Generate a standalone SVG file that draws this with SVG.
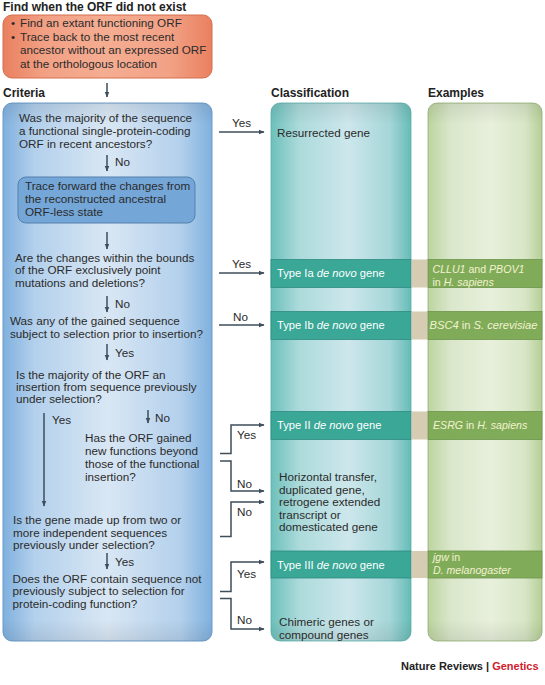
<svg xmlns="http://www.w3.org/2000/svg" width="545" height="685" viewBox="0 0 545 685">
<defs>
<linearGradient id="gOrange" x1="0" y1="0" x2="1" y2="0">
<stop offset="0" stop-color="#e9805f"/><stop offset="0.2" stop-color="#f2a185"/><stop offset="0.5" stop-color="#f5ad92"/><stop offset="0.8" stop-color="#f2a185"/><stop offset="1" stop-color="#e9805f"/>
</linearGradient>
<linearGradient id="gBlue" x1="0" y1="0" x2="1" y2="0">
<stop offset="0" stop-color="#7fb0de"/><stop offset="0.15" stop-color="#b3d0ec"/><stop offset="0.5" stop-color="#d9e7f4"/><stop offset="0.85" stop-color="#b3d0ec"/><stop offset="1" stop-color="#7fb0de"/>
</linearGradient>
<linearGradient id="gTeal" x1="0" y1="0" x2="1" y2="0">
<stop offset="0" stop-color="#6cc0bb"/><stop offset="0.2" stop-color="#acdadb"/><stop offset="0.55" stop-color="#cde7ec"/><stop offset="0.85" stop-color="#a5d6d8"/><stop offset="1" stop-color="#66bcb7"/>
</linearGradient>
<linearGradient id="gGreen" x1="0" y1="0" x2="1" y2="0">
<stop offset="0" stop-color="#bcd4a0"/><stop offset="0.2" stop-color="#dae7cb"/><stop offset="0.55" stop-color="#e8f0dc"/><stop offset="0.85" stop-color="#d8e6c6"/><stop offset="1" stop-color="#b6cf98"/>
</linearGradient>
<linearGradient id="gVert" x1="0" y1="0" x2="0" y2="1">
<stop offset="0" stop-color="#000" stop-opacity="0.08"/><stop offset="0.04" stop-color="#000" stop-opacity="0"/><stop offset="0.96" stop-color="#000" stop-opacity="0"/><stop offset="1" stop-color="#000" stop-opacity="0.08"/>
</linearGradient>
<marker id="ah" viewBox="0 0 10 10" refX="9" refY="5" markerWidth="6" markerHeight="6" markerUnits="userSpaceOnUse" orient="auto">
<path d="M0,1 L10,5 L0,9 z" fill="#3e4e5a"/>
</marker>
</defs>
<style>
text{font-family:"Liberation Sans",Arial,sans-serif;font-size:11.7px;fill:#2b2b2b}
.h{font-weight:bold;font-size:12px;fill:#222}
.w{fill:#ffffff;font-size:11.2px}
.ex{fill:#f4f2cf;font-size:10.6px}
.i{font-style:italic}
.c line,.c path{stroke:#3e4e5a;stroke-width:1.5;fill:none}
.a{marker-end:url(#ah)}
.band{fill:#3aa797;stroke:#2e8c80;stroke-width:0.8}
.gband{fill:#80ac5a;stroke:#6e954b;stroke-width:0.8}
.gap{fill:#d6ccb4}
</style>

<g id="header">
<text class="h" x="3" y="11">Find when the ORF did not exist</text>
</g>
<g id="start">
<rect x="3" y="15" width="209" height="63" rx="9" fill="url(#gOrange)" stroke="#d56e4f" stroke-width="1"/>
<text x="11" y="27">•</text><text x="20" y="27">Find an extant functioning ORF</text>
<text x="11" y="40.5">•</text><text x="20" y="40.5">Trace back to the most recent</text>
<text x="20" y="54">ancestor without an expressed ORF</text>
<text x="20" y="67.5">at the orthologous location</text>
</g>

<g id="col-headers">
<text class="h" x="3" y="97">Criteria</text>
<text class="h" x="271" y="97">Classification</text>
<text class="h" x="428" y="97">Examples</text>
</g>

<g id="criteria">
<rect x="3" y="103" width="209" height="538" rx="9" fill="url(#gBlue)" stroke="#6b9ccb" stroke-width="1"/>
<rect x="3" y="103" width="209" height="538" rx="9" fill="url(#gVert)"/>
</g>
<g id="q1">
<text x="19" y="122">Was the majority of the sequence</text>
<text x="19" y="135">a functional single-protein-coding</text>
<text x="19" y="147.5">ORF in recent ancestors?</text>
</g>
<g id="trace">
<rect x="18" y="177" width="177" height="46" rx="8" fill="#74a6d8" stroke="#547fab" stroke-width="1"/>
<text x="25" y="190">Trace forward the changes from</text>
<text x="25" y="203">the reconstructed ancestral</text>
<text x="25" y="215.5">ORF-less state</text>
</g>
<g id="q2">
<text x="15" y="261.5">Are the changes within the bounds</text>
<text x="15" y="274">of the ORF exclusively point</text>
<text x="15" y="286.5">mutations and deletions?</text>
</g>
<g id="q3">
<text x="10" y="325">Was any of the gained sequence</text>
<text x="10" y="337.5">subject to selection prior to insertion?</text>
</g>
<g id="q4">
<text x="16" y="378.5">Is the majority of the ORF an</text>
<text x="16" y="391">insertion from sequence previously</text>
<text x="16" y="403">under selection?</text>
</g>
<g id="q5">
<text x="85" y="441.5">Has the ORF gained</text>
<text x="85" y="454.5">new functions beyond</text>
<text x="85" y="467.5">those of the functional</text>
<text x="85" y="480.5">insertion?</text>
</g>
<g id="q6">
<text x="13" y="524">Is the gene made up from two or</text>
<text x="13" y="536.5">more independent sequences</text>
<text x="13" y="549">previously under selection?</text>
</g>
<g id="q7">
<text x="12.5" y="582.5">Does the ORF contain sequence not</text>
<text x="12.5" y="595">previously subject to selection for</text>
<text x="12.5" y="607.5">protein-coding function?</text>
</g>

<g id="classification">
<rect x="271" y="103" width="140" height="538" rx="9" fill="url(#gTeal)" stroke="#5aaea9" stroke-width="0.8"/>
<rect x="271" y="103" width="140" height="538" rx="9" fill="url(#gVert)"/>
</g>
<g id="examples">
<rect x="428" y="103" width="114" height="538" rx="9" fill="url(#gGreen)" stroke="#93b072" stroke-width="0.8"/>
<rect x="428" y="103" width="114" height="538" rx="9" fill="url(#gVert)"/>
</g>

<g id="resurrected">
<text x="277" y="136.5">Resurrected gene</text>
</g>
<g id="type-ia">
<rect class="band" x="271" y="259.5" width="140" height="28"/>
<rect class="gap" x="411.5" y="259.5" width="16" height="28"/>
<rect class="gband" x="428" y="259.5" width="114" height="28"/>
<text class="w" x="277" y="277">Type Ia <tspan class="i w">de novo</tspan> gene</text>
<text class="ex" x="432.5" y="272.5"><tspan class="i ex">CLLU1</tspan> and <tspan class="i ex">PBOV1</tspan></text>
<text class="ex" x="432.5" y="285.5">in <tspan class="i ex">H. sapiens</tspan></text>
</g>
<g id="type-ib">
<rect class="band" x="271" y="311.5" width="140" height="28"/>
<rect class="gap" x="411.5" y="311.5" width="16" height="28"/>
<rect class="gband" x="428" y="311.5" width="114" height="28"/>
<text class="w" x="277" y="329">Type Ib <tspan class="i w">de novo</tspan> gene</text>
<text class="ex" x="429.5" y="329" textLength="108" lengthAdjust="spacingAndGlyphs"><tspan class="i ex">BSC4</tspan> in <tspan class="i ex">S. cerevisiae</tspan></text>
</g>
<g id="type-ii">
<rect class="band" x="271" y="411.5" width="140" height="28"/>
<rect class="gap" x="411.5" y="411.5" width="16" height="28"/>
<rect class="gband" x="428" y="411.5" width="114" height="28"/>
<text class="w" x="277" y="429">Type II <tspan class="i w">de novo</tspan> gene</text>
<text class="ex" x="433" y="429"><tspan class="i ex">ESRG</tspan> in <tspan class="i ex">H. sapiens</tspan></text>
</g>
<g id="horizontal">
<text x="279" y="481">Horizontal transfer,</text>
<text x="279" y="493.5">duplicated gene,</text>
<text x="279" y="506">retrogene extended</text>
<text x="279" y="518.5">transcript or</text>
<text x="279" y="531">domesticated gene</text>
</g>
<g id="type-iii">
<rect class="band" x="271" y="551" width="140" height="27"/>
<rect class="gap" x="411.5" y="551" width="16" height="27"/>
<rect class="gband" x="428" y="551" width="114" height="27"/>
<text class="w" x="277" y="569">Type III <tspan class="i w">de novo</tspan> gene</text>
<text class="ex" x="433" y="561"><tspan class="i ex">jgw</tspan> in</text>
<text class="ex i" x="433" y="574">D. melanogaster</text>
</g>
<g id="chimeric">
<text x="279" y="626">Chimeric genes or</text>
<text x="279" y="638.5">compound genes</text>
</g>

<g id="connectors" class="c">
<line class="a" x1="107" y1="83" x2="107" y2="97"/>
<line class="a" x1="107" y1="155" x2="107" y2="171"/>
<line class="a" x1="107" y1="232" x2="107" y2="249"/>
<line class="a" x1="107" y1="296" x2="107" y2="312"/>
<line class="a" x1="107" y1="344" x2="107" y2="360"/>
<line class="a" x1="148" y1="410" x2="148" y2="423"/>
<line class="a" x1="44" y1="413" x2="44" y2="506"/>
<line class="a" x1="107" y1="553" x2="107" y2="569"/>
<line class="a" x1="219" y1="132" x2="264" y2="132"/>
<line class="a" x1="219" y1="273" x2="264" y2="273"/>
<line class="a" x1="219" y1="325" x2="264" y2="325"/>
<path class="a" d="M220,453.5 H231 V425 H264"/>
<path class="a" d="M220,461 H231 V491 H264"/>
<path class="a" d="M220,536.5 H231 V502 H264"/>
<path class="a" d="M220,591.5 H231 V562 H264"/>
<path class="a" d="M220,598.5 H231 V629 H264"/>
</g>
<g id="connector-labels">
<text x="115" y="166">No</text>
<text x="115" y="308">No</text>
<text x="115" y="357">Yes</text>
<text x="52" y="424">Yes</text>
<text x="155" y="422">No</text>
<text x="115" y="566">Yes</text>
<text x="232" y="127">Yes</text>
<text x="232" y="268">Yes</text>
<text x="233" y="321">No</text>
<text x="237" y="439">Yes</text>
<text x="237" y="487.5">No</text>
<text x="237" y="516">No</text>
<text x="237" y="578">Yes</text>
<text x="237" y="623.5">No</text>
</g>

<g id="footer">
<text class="h" x="401" y="670" style="font-size:11px">Nature Reviews | <tspan style="fill:#d0202e">Genetics</tspan></text>
</g>
</svg>
